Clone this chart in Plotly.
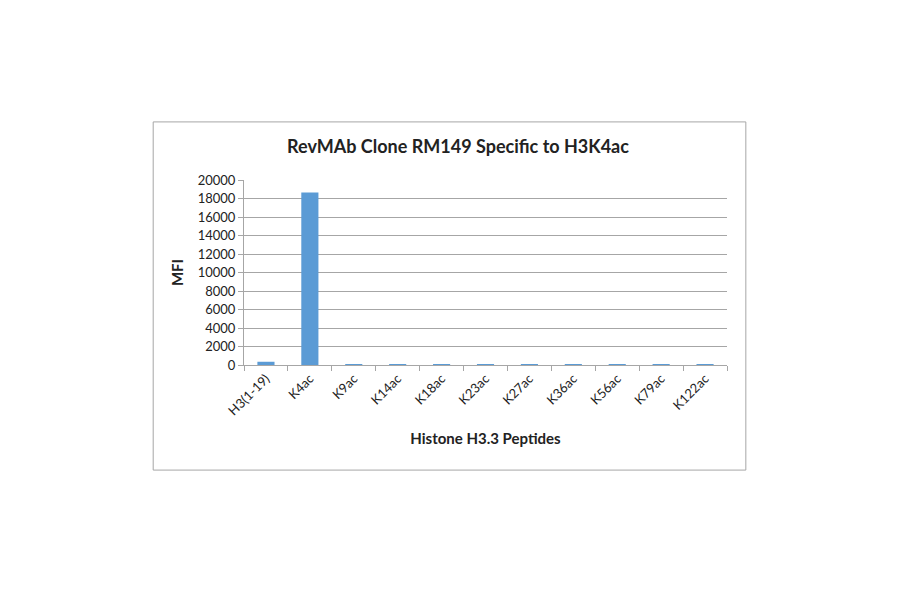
import plotly.graph_objects as go

peptides = ['H3(1-19)', 'K4ac', 'K9ac', 'K14ac', 'K18ac', 'K23ac',
            'K27ac', 'K36ac', 'K56ac', 'K79ac', 'K122ac']
mfi = [350, 18650, 100, 100, 100, 100, 100, 100, 100, 100, 100]

fig = go.Figure(go.Bar(x=peptides, y=mfi, marker_color='#5B9BD5',
                       marker_line_width=0))

font_name = 'Lato, Open Sans, sans-serif'

fig.update_layout(
    width=900, height=594,
    margin=dict(l=236, r=181, t=172, b=237),
    paper_bgcolor='white', plot_bgcolor='white',
    bargap=0.61,
    showlegend=False,
    font=dict(family=font_name, color='#222222', size=13),
    title=dict(text='<b>RevMAb Clone RM149 Specific to H3K4ac</b>',
               x=0.5, xanchor='center', y=1 - 139 / 594, yanchor='middle',
               font=dict(size=18, color='#222222')),
)

fig.update_xaxes(
    type='category', tickangle=-45,
    showline=True, linecolor='#A6A6A6', linewidth=1,
    ticks='outside', tickson='boundaries', ticklen=5, tickcolor='#A6A6A6',
    showgrid=False,
    title=dict(text='<b>Histone H3.3 Peptides</b>', font=dict(size=15), standoff=16),
)
fig.update_yaxes(
    range=[0, 20000], dtick=2000, tickformat='d',
    showline=True, linecolor='#A6A6A6', linewidth=1,
    ticks='outside', ticklen=5, tickcolor='#A6A6A6',
    gridcolor='#A6A6A6', gridwidth=1,
    zeroline=False,
    title=dict(text='<b>MFI</b>', font=dict(size=15), standoff=10),
)

# outer chart border like the Excel frame
fig.add_shape(type='rect', xref='paper', yref='paper',
              x0=-0.188, x1=1.039, y0=-0.568, y1=1.314,
              line=dict(color='#A6A6A6', width=1), fillcolor='rgba(0,0,0,0)',
              layer='below')

fig.write_html('out.html')
